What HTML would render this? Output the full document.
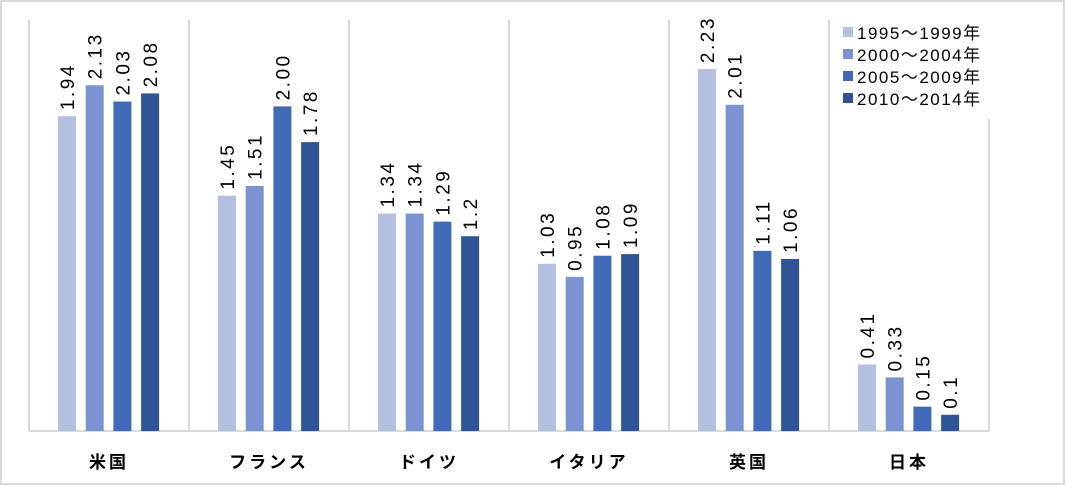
<!DOCTYPE html>
<html><head><meta charset="utf-8"><style>
body{margin:0;background:#fff;}
svg{display:block;font-family:"Liberation Sans","Noto Sans CJK JP",sans-serif;}
</style></head><body>
<svg id="c" width="1065" height="485">
<rect x="1" y="1" width="1063" height="483" fill="#fff" stroke="#d9d9d9" stroke-width="2"/>
<g id="grid"></g><g id="bars"></g><g id="labels"></g>
<g id="legend"></g>
</svg>
<script>
const categories=["米国","フランス","ドイツ","イタリア","英国","日本"];
const seriesNames=["1995～1999年","2000～2004年","2005～2009年","2010～2014年"];
const s1=[1.94,1.45,1.34,1.03,2.23,0.41];
const s2=[2.13,1.51,1.34,0.95,2.01,0.33];
const s3=[2.03,2.00,1.29,1.08,1.11,0.15];
const s4=[2.08,1.78,1.2,1.09,1.06,0.1];
const valueLabels=[["1.94","1.45","1.34","1.03","2.23","0.41"],["2.13","1.51","1.34","0.95","2.01","0.33"],["2.03","2.00","1.29","1.08","1.11","0.15"],["2.08","1.78","1.2","1.09","1.06","0.1"]];
const colors=["#b4c0e0","#7b93d0","#4069b8","#2f5596"];
const series=[s1,s2,s3,s4];
const NS="http://www.w3.org/2000/svg";
const x0=29,gw=160,base=431,k=162.3;
const y=v=>base-v*k;
function mk(t,a,p){const e=document.createElementNS(NS,t);for(const q in a)e.setAttribute(q,a[q]);p.appendChild(e);return e;}
const grid=document.getElementById('grid'),bars=document.getElementById('bars'),labels=document.getElementById('labels');
for(let i=0;i<=categories.length;i++){
 const l=mk('line',{x1:x0+i*gw,x2:x0+i*gw,y1:20,y2:base,stroke:'#d9d9d9','stroke-width':2},grid);
 
 
}
const ax=mk('line',{x1:x0,x2:x0+categories.length*gw,y1:base,y2:base,stroke:'#d9d9d9','stroke-width':2},grid);


categories.forEach((c,i)=>{
 series.forEach((s,j)=>{
  const bx=x0+i*gw+29+j*27.7;
  const r=mk('rect',{x:bx,y:y(s[i]),width:18,height:base-y(s[i]),fill:colors[j]},bars);
  
  
  const t=mk('text',{x:0,y:0,transform:`translate(${bx+16},${y(s[i])-6}) rotate(-90)`,'font-size':19,fill:'#000','letter-spacing':'2.5'},labels);
  t.textContent=valueLabels[j][i];
  
  
 });
 const ct=mk('text',{x:x0+i*gw+80,y:468,'text-anchor':'middle','font-size':17,'font-weight':'bold','letter-spacing':'3'},labels);
 ct.textContent=c;
 
 
});
const lg=document.getElementById('legend');
mk('rect',{x:830,y:14,width:180,height:105,fill:'#fff'},lg);
seriesNames.forEach((n,j)=>{
 const r=mk('rect',{x:843,y:27+j*22,width:10,height:10,fill:colors[j]},lg);
 
 
 const t=mk('text',{x:857,y:39+j*22,'font-size':17,fill:'#000','letter-spacing':'1.5'},lg);
 t.textContent=n;
 
 
});
</script>
</body></html>
